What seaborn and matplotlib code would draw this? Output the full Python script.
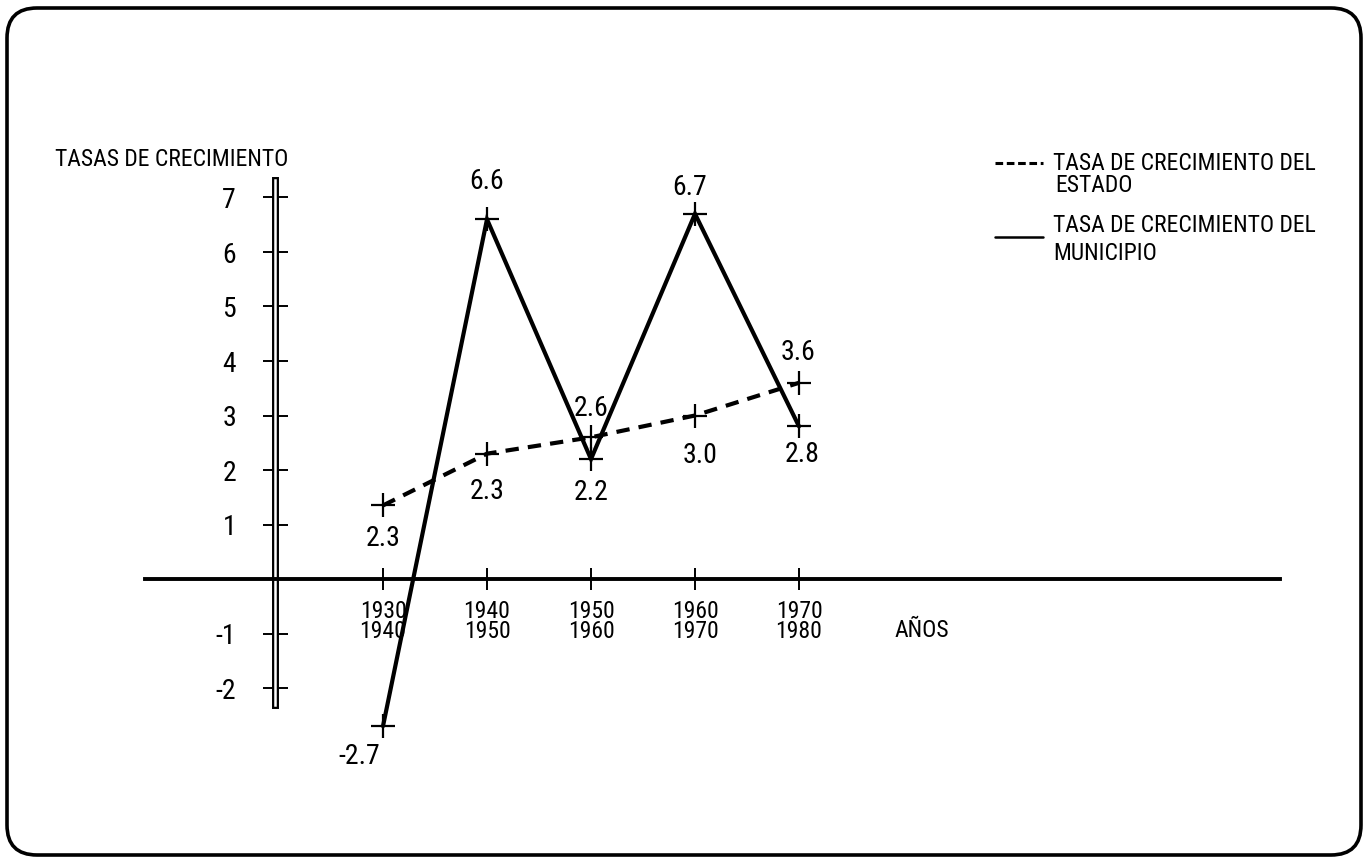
import os
import matplotlib
matplotlib.use("Agg")
import matplotlib.pyplot as plt
import matplotlib.patheffects as pe
from matplotlib import font_manager as fm
from matplotlib.font_manager import FontProperties
from matplotlib.patches import FancyBboxPatch
from matplotlib.lines import Line2D
import seaborn as sns

# ---------------- data ----------------
periodos = ["1930\n1940", "1940\n1950", "1950\n1960", "1960\n1970", "1970\n1980"]
tasa_estado = [1.35, 2.3, 2.6, 3.0, 3.6]
tasa_municipio = [-2.7, 6.6, 2.2, 6.7, 2.8]
etiquetas_estado = ["2.3", "2.3", "2.6", "3.0", "3.6"]
etiquetas_municipio = ["-2.7", "6.6", "2.2", "6.7", "2.8"]
y_ticks = [-2, -1, 1, 2, 3, 4, 5, 6, 7]
y_tick_labels = ["-2", "-1", "1", "2", "3", "4", "5", "6", "7"]
titulo_y = "TASAS DE CRECIMIENTO"
titulo_x = "AÑOS"
leyenda_estado = ["TASA DE CRECIMIENTO DEL", "ESTADO"]
leyenda_municipio = ["TASA DE CRECIMIENTO DEL", "MUNICIPIO"]

# ---------------- style ----------------
sns.set_theme(style="white")
plt.rcParams["font.family"] = ["Liberation Sans", "DejaVu Sans"]
plt.rcParams["text.color"] = "black"


def find_condensed():
    files = set(fm.findSystemFonts()) | {f.fname for f in fm.fontManager.ttflist}
    bases = {os.path.basename(f): f for f in files}
    prefs = ["LiberationSansNarrow-Regular.ttf", "NotoSans-Condensed.ttf",
             "NotoSans-CondensedRegular.ttf", "RobotoCondensed-Regular.ttf",
             "DejaVuSansCondensed.ttf", "NotoSans-SemiCondensed.ttf"]
    for p in prefs:
        if p in bases:
            return bases[p]
    for b, f in bases.items():
        bl = b.lower()
        if ("condensed" in bl or "narrow" in bl) and "bold" not in bl and "italic" not in bl \
                and "light" not in bl and "black" not in bl and "thin" not in bl \
                and "medium" not in bl and "semi" not in bl and "extra" not in bl \
                and "mono" not in bl and "cjk" not in bl:
            return f
    return None


COND = find_condensed()


def fp(size):
    if COND:
        return FontProperties(fname=COND, size=size)
    return FontProperties(family="Liberation Sans", size=size)


W, H, DPI = 1368, 863, 100
fig = plt.figure(figsize=(W / DPI, H / DPI), dpi=DPI)
fig.patch.set_facecolor("white")

X0, DX = 383, 104.0      # pixel of first category, pixel step
Y0, DY = 579, 54.5       # pixel of zero line, pixels per unit
ax = fig.add_axes([0, 0, 1, 1])
ax.set_xlim(-X0 / DX, (W - X0) / DX)
ax.set_ylim((Y0 - H) / DY, Y0 / DY)
ax.patch.set_alpha(0)

xi = list(range(len(periodos)))

sns.lineplot(x=xi, y=tasa_municipio, ax=ax, color="black", linewidth=3.0,
             marker="+", markersize=17, markeredgewidth=1.6,
             markeredgecolor="black", solid_joinstyle="miter")
sns.lineplot(x=xi, y=tasa_estado, ax=ax, color="black", linewidth=3.0,
             linestyle=(0, (3.2, 2.2)),
             marker="+", markersize=17, markeredgewidth=1.6,
             markeredgecolor="black")
ax.set_xlabel("")
ax.set_ylabel("")

# ---------------- axes (cross shaped) ----------------
for s in ["top", "right"]:
    ax.spines[s].set_visible(False)
left_x = (275 - X0) / DX
ax.spines["left"].set_position(("data", left_x))
ax.spines["left"].set_bounds((Y0 - 705) / DY, (Y0 - 180) / DY)
ax.spines["left"].set_color("black")
ax.spines["left"].set_linewidth(1.2)
ax.spines["left"].set_path_effects([pe.Stroke(linewidth=5.0, foreground="black"),
                                    pe.Stroke(linewidth=1.8, foreground="white")])
ax.spines["bottom"].set_position(("data", 0))
ax.spines["bottom"].set_bounds((145 - X0) / DX, (1280 - X0) / DX)
ax.spines["bottom"].set_color("black")
ax.spines["bottom"].set_linewidth(2.8)

ax.set_xticks(xi)
ax.set_xticklabels(periodos)
ax.set_yticks(y_ticks)
ax.set_yticklabels(y_tick_labels)
ax.tick_params(axis="x", bottom=True, direction="inout", length=16, width=1.4,
               color="black", pad=7, labelcolor="black")
ax.tick_params(axis="y", left=True, direction="inout", length=18, width=1.4,
               color="black", pad=19, labelcolor="black")
for t in ax.get_xticklabels():
    t.set_fontproperties(fp(17))
    t.set_linespacing(0.85)
for t in ax.get_yticklabels():
    t.set_fontproperties(fp(20))

# ---------------- value labels ----------------
off_estado = [(0, -24), (0, -27), (0, 21), (4, -29), (-1, 22)]
off_municipio = [(-17, -22), (0, 27), (0, -24), (-4, 19), (2, -20)]
for x, y, lab, off in zip(xi, tasa_estado, etiquetas_estado, off_estado):
    ax.annotate(lab, (x, y), xytext=off, textcoords="offset points",
                ha="center", va="center", color="black", fontproperties=fp(20))
for x, y, lab, off in zip(xi, tasa_municipio, etiquetas_municipio, off_municipio):
    ax.annotate(lab, (x, y), xytext=off, textcoords="offset points",
                ha="center", va="center", color="black", fontproperties=fp(20))


# ---------------- titles ----------------
def px(x, y):
    return x / W, 1 - y / H


fig.text(*px(55, 160), titulo_y, ha="left", va="center", color="black",
         fontproperties=fp(17))
fig.text(*px(922, 630), titulo_x, ha="center", va="center", color="black",
         fontproperties=fp(17))

# ---------------- legend ----------------
fig.text(*px(1053, 163), leyenda_estado[0], ha="left", va="center", color="black", fontproperties=fp(17))
fig.text(*px(1055, 185), leyenda_estado[1], ha="left", va="center", color="black", fontproperties=fp(17))
fig.text(*px(1053, 226), leyenda_municipio[0], ha="left", va="center", color="black", fontproperties=fp(17))
fig.text(*px(1053, 254), leyenda_municipio[1], ha="left", va="center", color="black", fontproperties=fp(17))
fig.add_artist(Line2D([995 / W, 1043 / W], [1 - 163 / H, 1 - 163 / H],
                      transform=fig.transFigure, color="black", lw=2.2,
                      linestyle=(0, (2.5, 1.2))))
fig.add_artist(Line2D([995 / W, 1043 / W], [1 - 237 / H, 1 - 237 / H],
                      transform=fig.transFigure, color="black", lw=1.8))

# ---------------- rounded frame ----------------
frame = FancyBboxPatch((7, 8), W - 14, H - 16,
                       boxstyle="round,pad=0,rounding_size=30",
                       transform=None, fill=False, edgecolor="black", linewidth=2.6)
fig.add_artist(frame)

fig.savefig("out.png", dpi=DPI)
